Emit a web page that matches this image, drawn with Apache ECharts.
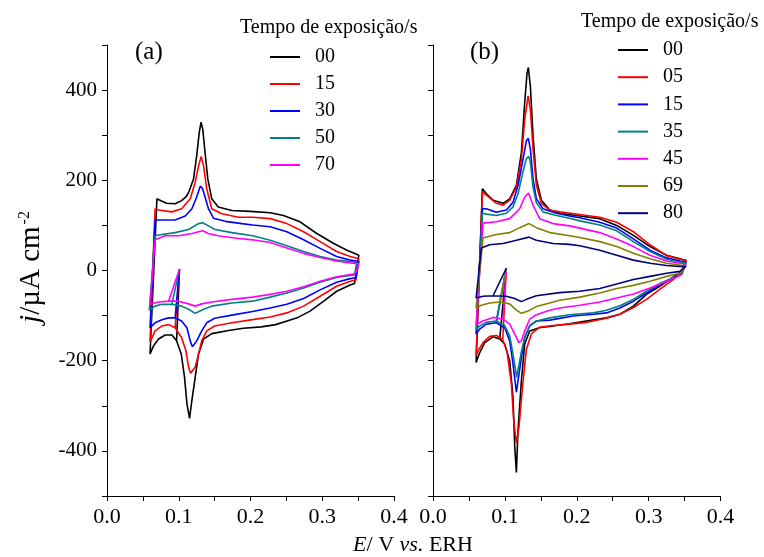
<!DOCTYPE html>
<html>
<head>
<meta charset="utf-8">
<script src="https://cdn.jsdelivr.net/npm/echarts@6/dist/echarts.min.js"></script>
<style>
    html, body { margin: 0; padding: 0; background: #fff; }
    #chart { width: 764px; height: 557px; }
</style>
</head>
<body>
<div id="chart"></div>
<script>
// Panel (a): exposure times and curves (E / V, j / uA cm-2)
const labelsA = ['00', '15', '30', '50', '70']
const startA = [0.101, 3]

const topA00 = [[0.0696,159],[0.076,154],[0.083,149],[0.095,148],[0.104,155],[0.110,163],[0.114,174],[0.1206,203],[0.125,254],[0.1285,305],[0.1311,329],[0.1335,313],[0.1367,261],[0.1405,203],[0.146,159],[0.155,141],[0.174,133],[0.200,131],[0.2274,128],[0.246,122],[0.269,108],[0.2924,82],[0.316,60],[0.3344,45],[0.351,34]]
const botA00 = [[0.345,-29],[0.3388,-32],[0.3202,-46],[0.302,-68],[0.283,-90],[0.265,-105],[0.251,-112],[0.235,-120],[0.215,-125],[0.19,-128],[0.1694,-133],[0.146,-140],[0.1346,-152],[0.1276,-185],[0.123,-236],[0.1183,-288],[0.115,-328],[0.1114,-295],[0.108,-236],[0.1035,-185],[0.097,-156],[0.0904,-143],[0.081,-143],[0.0719,-152],[0.0649,-167],[0.060,-185]]

const topA15 = [[0.067,137],[0.0719,134],[0.0904,130],[0.104,137],[0.116,159],[0.123,196],[0.1276,232],[0.1313,253],[0.1346,232],[0.139,181],[0.146,137],[0.160,126],[0.1833,118],[0.203,118],[0.2274,115],[0.2506,104],[0.274,86],[0.297,64],[0.320,42],[0.339,31],[0.351,26]]
const botA15 = [[0.347,-21],[0.339,-24],[0.320,-35],[0.297,-57],[0.274,-79],[0.2506,-94],[0.2274,-103],[0.203,-109],[0.174,-116],[0.150,-123],[0.139,-134],[0.132,-156],[0.1276,-185],[0.123,-214],[0.1165,-228],[0.1137,-214],[0.110,-178],[0.104,-149],[0.095,-127],[0.0858,-120],[0.0765,-123],[0.067,-134],[0.0617,-153],[0.060,-158]]

const topA30 = [[0.067,112],[0.0765,112],[0.095,112],[0.109,121],[0.1183,137],[0.125,163],[0.1299,187],[0.1331,182],[0.1367,163],[0.1414,137],[0.1484,116],[0.165,109],[0.188,104],[0.203,101],[0.2274,97],[0.2506,86],[0.274,68],[0.297,49],[0.320,31],[0.339,23],[0.351,20]]
const botA30 = [[0.347,-16],[0.339,-18],[0.320,-26],[0.297,-43],[0.274,-62],[0.2506,-75],[0.2274,-83],[0.203,-91],[0.174,-99],[0.150,-106],[0.139,-116],[0.132,-134],[0.125,-156],[0.119,-169],[0.116,-156],[0.1114,-127],[0.104,-112],[0.095,-105],[0.0858,-105],[0.0765,-109],[0.067,-116],[0.060,-127]]

const topA50 = [[0.067,77],[0.0765,80],[0.095,84],[0.1137,91],[0.1276,104],[0.1331,106],[0.1414,99],[0.1506,91],[0.174,84],[0.203,77],[0.2274,67],[0.2506,55],[0.274,42],[0.297,31],[0.320,23],[0.339,20],[0.348,18]]
const botA50 = [[0.345,-10],[0.339,-11],[0.320,-15.5],[0.297,-26],[0.274,-39],[0.2506,-50],[0.2274,-59],[0.203,-68],[0.174,-72],[0.146,-79],[0.1346,-86],[0.123,-95],[0.1137,-86],[0.104,-79],[0.0904,-75],[0.0765,-75],[0.067,-79],[0.059,-88]]

const topA70 = [[0.067,68],[0.081,77],[0.0998,77],[0.1183,82],[0.1331,88],[0.1414,82],[0.155,77],[0.1833,71],[0.203,68],[0.2274,62],[0.2506,50],[0.274,38],[0.297,29],[0.320,21],[0.339,17],[0.351,15]]
const botA70 = [[0.346,-7],[0.339,-9],[0.320,-14],[0.297,-24],[0.274,-36],[0.2506,-46],[0.2274,-53],[0.203,-59],[0.174,-64],[0.146,-70],[0.132,-74],[0.123,-79],[0.1137,-74],[0.0998,-68],[0.0858,-68],[0.0719,-70],[0.060,-75]]

// Panel (b)
const labelsB = ['00', '05', '15', '35', '45', '69', '80']
const startB = [0.102, 5]

const topB00 = [[0.0687,181],[0.0743,170],[0.0836,156],[0.0975,149],[0.1067,159],[0.116,189],[0.123,262],[0.1276,372],[0.1308,437],[0.1327,450],[0.1355,408],[0.1392,298],[0.1438,203],[0.1508,156],[0.1624,134],[0.1763,127],[0.2042,121],[0.232,115],[0.2556,100],[0.2788,78],[0.302,53],[0.325,34],[0.3435,26],[0.352,22]]
const botB00 = [[0.346,-2],[0.334,-15],[0.3155,-35],[0.297,-53],[0.2788,-79],[0.260,-97],[0.2413,-105],[0.213,-112],[0.19,-118],[0.167,-123],[0.148,-127],[0.1345,-134],[0.1276,-163],[0.123,-244],[0.1183,-354],[0.116,-448],[0.1137,-390],[0.1113,-281],[0.1067,-200],[0.0997,-163],[0.0928,-152],[0.0835,-147],[0.072,-160],[0.065,-182],[0.060,-204]]

const topB05 = [[0.0687,174],[0.0743,167],[0.0882,149],[0.0975,145],[0.1067,156],[0.116,185],[0.123,247],[0.1276,335],[0.1323,387],[0.1355,357],[0.1392,269],[0.1438,189],[0.1508,149],[0.1624,134],[0.1763,130],[0.2042,124],[0.232,118],[0.2556,107],[0.2788,86],[0.302,57],[0.325,33],[0.3435,25],[0.352,22]]
const botB05 = [[0.346,-6],[0.334,-20],[0.3155,-42],[0.297,-64],[0.2788,-82],[0.260,-97],[0.2413,-106],[0.213,-115],[0.19,-119],[0.167,-122],[0.148,-126],[0.137,-140],[0.1299,-175],[0.1244,-260],[0.1197,-346],[0.116,-383],[0.1123,-332],[0.109,-251],[0.103,-180],[0.097,-153],[0.0882,-144],[0.0789,-146],[0.0696,-160],[0.0627,-178],[0.060,-189]]

const topB15 = [[0.0687,137],[0.0743,137],[0.0882,129],[0.102,134],[0.1113,151],[0.1183,189],[0.1253,247],[0.13,288],[0.1327,293],[0.1355,269],[0.1392,203],[0.1438,159],[0.153,137],[0.1717,127],[0.19,121],[0.2042,117],[0.232,107],[0.2556,94],[0.2788,70],[0.302,45],[0.325,28],[0.3435,21],[0.352,18]]
const botB15 = [[0.346,-8],[0.334,-17],[0.3155,-31],[0.297,-50],[0.2788,-68],[0.260,-83],[0.2413,-94],[0.223,-97],[0.195,-101],[0.1624,-110],[0.144,-112],[0.1345,-123],[0.1276,-149],[0.123,-193],[0.1183,-244],[0.116,-270],[0.1113,-207],[0.1067,-156],[0.0997,-127],[0.088,-116],[0.0742,-119],[0.065,-130],[0.060,-141]]

const topB35 = [[0.0687,127],[0.0743,125],[0.088,122],[0.102,127],[0.1113,141],[0.1183,170],[0.1253,220],[0.13,248],[0.1332,253],[0.1355,240],[0.1392,185],[0.1438,150],[0.153,130],[0.1717,122],[0.19,116],[0.2042,110],[0.232,101],[0.2556,88],[0.2788,64],[0.302,42],[0.325,25],[0.3435,19],[0.352,16]]
const botB35 = [[0.346,-9],[0.334,-16],[0.3155,-29],[0.297,-46],[0.2788,-64],[0.260,-78],[0.2413,-88],[0.223,-94],[0.19,-98],[0.1624,-105],[0.144,-112],[0.1345,-122],[0.1276,-148],[0.123,-180],[0.1183,-220],[0.1165,-237],[0.1113,-185],[0.1067,-145],[0.0997,-122],[0.088,-112],[0.0742,-115],[0.065,-123],[0.060,-132]]

const topB45 = [[0.0696,105],[0.0882,108],[0.1067,115],[0.1206,137],[0.1276,163],[0.133,172],[0.1392,145],[0.1484,115],[0.167,104],[0.1902,99],[0.2042,94],[0.232,84],[0.2556,70],[0.2788,53],[0.302,34],[0.325,21],[0.3435,16],[0.352,14]]
const botB45 = [[0.3435,-11],[0.325,-24],[0.302,-39],[0.2788,-52],[0.2556,-61],[0.232,-70],[0.2042,-77],[0.1763,-83],[0.1624,-88],[0.1438,-98],[0.1345,-108],[0.1276,-134],[0.123,-156],[0.1195,-160],[0.1137,-141],[0.1067,-119],[0.0975,-108],[0.0836,-104],[0.0696,-112],[0.060,-120]]

const topB69 = [[0.0696,72],[0.0882,80],[0.1067,84],[0.1206,95],[0.1335,104],[0.1438,95],[0.1624,84],[0.1902,77],[0.2042,73],[0.232,64],[0.2556,53],[0.2788,38],[0.302,26],[0.325,16],[0.3435,12],[0.352,11]]
const botB69 = [[0.3435,-6],[0.325,-13],[0.302,-24],[0.2788,-33],[0.2556,-40],[0.232,-50],[0.2042,-59],[0.1763,-66],[0.1624,-72],[0.1438,-80],[0.1322,-90],[0.123,-95],[0.116,-88],[0.1067,-74],[0.0929,-70],[0.0789,-72],[0.0673,-77],[0.060,-83]]

const topB80 = [[0.0673,50],[0.0789,57],[0.0975,60],[0.116,67],[0.1335,74],[0.1438,67],[0.167,60],[0.1902,58],[0.2042,55],[0.232,45],[0.2556,34],[0.2788,23],[0.302,16],[0.325,11],[0.3435,9],[0.352,9]]
const botB80 = [[0.3435,-2],[0.325,-6],[0.302,-13],[0.2788,-20],[0.2556,-30],[0.232,-40],[0.2042,-46],[0.1763,-49],[0.1438,-56],[0.13,-64],[0.123,-69],[0.1137,-62],[0.102,-57],[0.0836,-56],[0.0696,-57],[0.060,-61]]

const colorsA = ['#000000', '#ff0000', '#0000ff', '#008080', '#ff00ff']
const colorsB = ['#000000', '#ff0000', '#0000ff', '#008080', '#ff00ff', '#808000', '#000080']

const curvesA = [[topA00, botA00], [topA15, botA15], [topA30, botA30], [topA50, botA50], [topA70, botA70]]
const curvesB = [[topB00, botB00], [topB05, botB05], [topB15, botB15], [topB35, botB35], [topB45, botB45], [topB69, botB69], [topB80, botB80]]

// scan order: start potential -> negative to the lower limit -> anodic branch -> cathodic branch
function loop(start, top, bot) {
    const firstLeg = bot.filter((p) => p[0] <= 0.098)
    return [start, ...firstLeg, ...top, ...bot]
}

const font = 'Liberation Serif'
const series = []
curvesA.forEach((c, i) => {
    series.push({
        name: 'a' + labelsA[i],
        type: 'line',
        xAxisIndex: 0,
        yAxisIndex: 0,
        data: loop(startA, c[0], c[1]),
        showSymbol: false,
        symbol: 'none',
        lineStyle: { color: colorsA[i], width: 1.6 },
        itemStyle: { color: colorsA[i] },
    })
})
curvesB.forEach((c, i) => {
    series.push({
        name: 'b' + labelsB[i],
        type: 'line',
        xAxisIndex: 1,
        yAxisIndex: 1,
        data: loop(startB, c[0], c[1]),
        showSymbol: false,
        symbol: 'none',
        lineStyle: { color: colorsB[i], width: 1.6 },
        itemStyle: { color: colorsB[i] },
    })
})

const xAxisBase = {
    type: 'value',
    min: 0,
    max: 0.4,
    interval: 0.05,
    axisLine: { show: true, onZero: false, lineStyle: { color: '#000', width: 1 } },
    axisTick: { show: true, length: 5, lineStyle: { color: '#000' } },
    splitLine: { show: false },
    axisLabel: {
        color: '#000',
        fontFamily: font,
        fontSize: 22,
        margin: 10,
        formatter: (v) => (Math.round(v * 100) % 10 === 0 ? v.toFixed(1) : ''),
    },
}
const yAxisBase = {
    type: 'value',
    min: -500,
    max: 500,
    interval: 100,
    axisLine: { show: true, onZero: false, lineStyle: { color: '#000', width: 1 } },
    axisTick: { show: true, length: 5, lineStyle: { color: '#000' } },
    splitLine: { show: false },
    axisLabel: {
        color: '#000',
        fontFamily: font,
        fontSize: 21,
        margin: 10,
        formatter: (v) => (v % 200 === 0 ? String(v) : ''),
    },
}

const legendBase = {
    orient: 'vertical',
    padding: 0,
    icon: 'rect',
    itemWidth: 30,
    itemHeight: 2,
    formatter: (name) => name.slice(1),
    textStyle: { color: '#000', fontFamily: font, fontSize: 20, padding: [0, 0, 0, 10] },
}

const chart = echarts.init(document.getElementById('chart'))
chart.setOption({
    backgroundColor: '#fff',
    animation: false,
    grid: [
        { left: 107, top: 45, width: 287, height: 451 },
        { left: 433, top: 45, width: 287.5, height: 451 },
    ],
    xAxis: [
        { ...xAxisBase, gridIndex: 0 },
        { ...xAxisBase, gridIndex: 1 },
    ],
    yAxis: [
        { ...yAxisBase, gridIndex: 0 },
        { ...yAxisBase, gridIndex: 1, axisLabel: { show: false } },
    ],
    legend: [
        { ...legendBase, left: 270, top: 47, itemGap: 7, data: labelsA.map((l) => 'a' + l) },
        { ...legendBase, left: 618, top: 40, itemGap: 7.2, data: labelsB.map((l) => 'b' + l) },
    ],
    graphic: [
        { type: 'text', left: 240, top: 18, style: { text: 'Tempo de exposição/s', font: '20px "Liberation Serif"', fill: '#000' } },
        { type: 'text', left: 581, top: 12, style: { text: 'Tempo de exposição/s', font: '20px "Liberation Serif"', fill: '#000' } },
        { type: 'text', left: 135, top: 40, style: { text: '(a)', font: '25px "Liberation Serif"', fill: '#000' } },
        { type: 'text', left: 470, top: 40, style: { text: '(b)', font: '25px "Liberation Serif"', fill: '#000' } },
        {
            type: 'text',
            x: 413,
            y: 545,
            style: {
                text: '{i|E}/ V {i|vs.} ERH',
                align: 'center',
                verticalAlign: 'middle',
                font: '22px "Liberation Serif"',
                fill: '#000',
                rich: {
                    i: { fontFamily: font, fontSize: 22, fontStyle: 'italic', fill: '#000' },
                },
            },
        },
        {
            type: 'text',
            x: 31,
            y: 267,
            rotation: Math.PI / 2,
            style: {
                text: '{i|j}/µA cm{s|-2}',
                align: 'center',
                verticalAlign: 'middle',
                font: '29px "Liberation Serif"',
                fill: '#000',
                rich: {
                    i: { fontFamily: font, fontSize: 29, fontStyle: 'italic', fill: '#000' },
                    s: { fontFamily: font, fontSize: 16, fill: '#000', verticalAlign: 'top', padding: [0, 0, 13, 2] },
                },
            },
        },
    ],
    series,
})
</script>
</body>
</html>
